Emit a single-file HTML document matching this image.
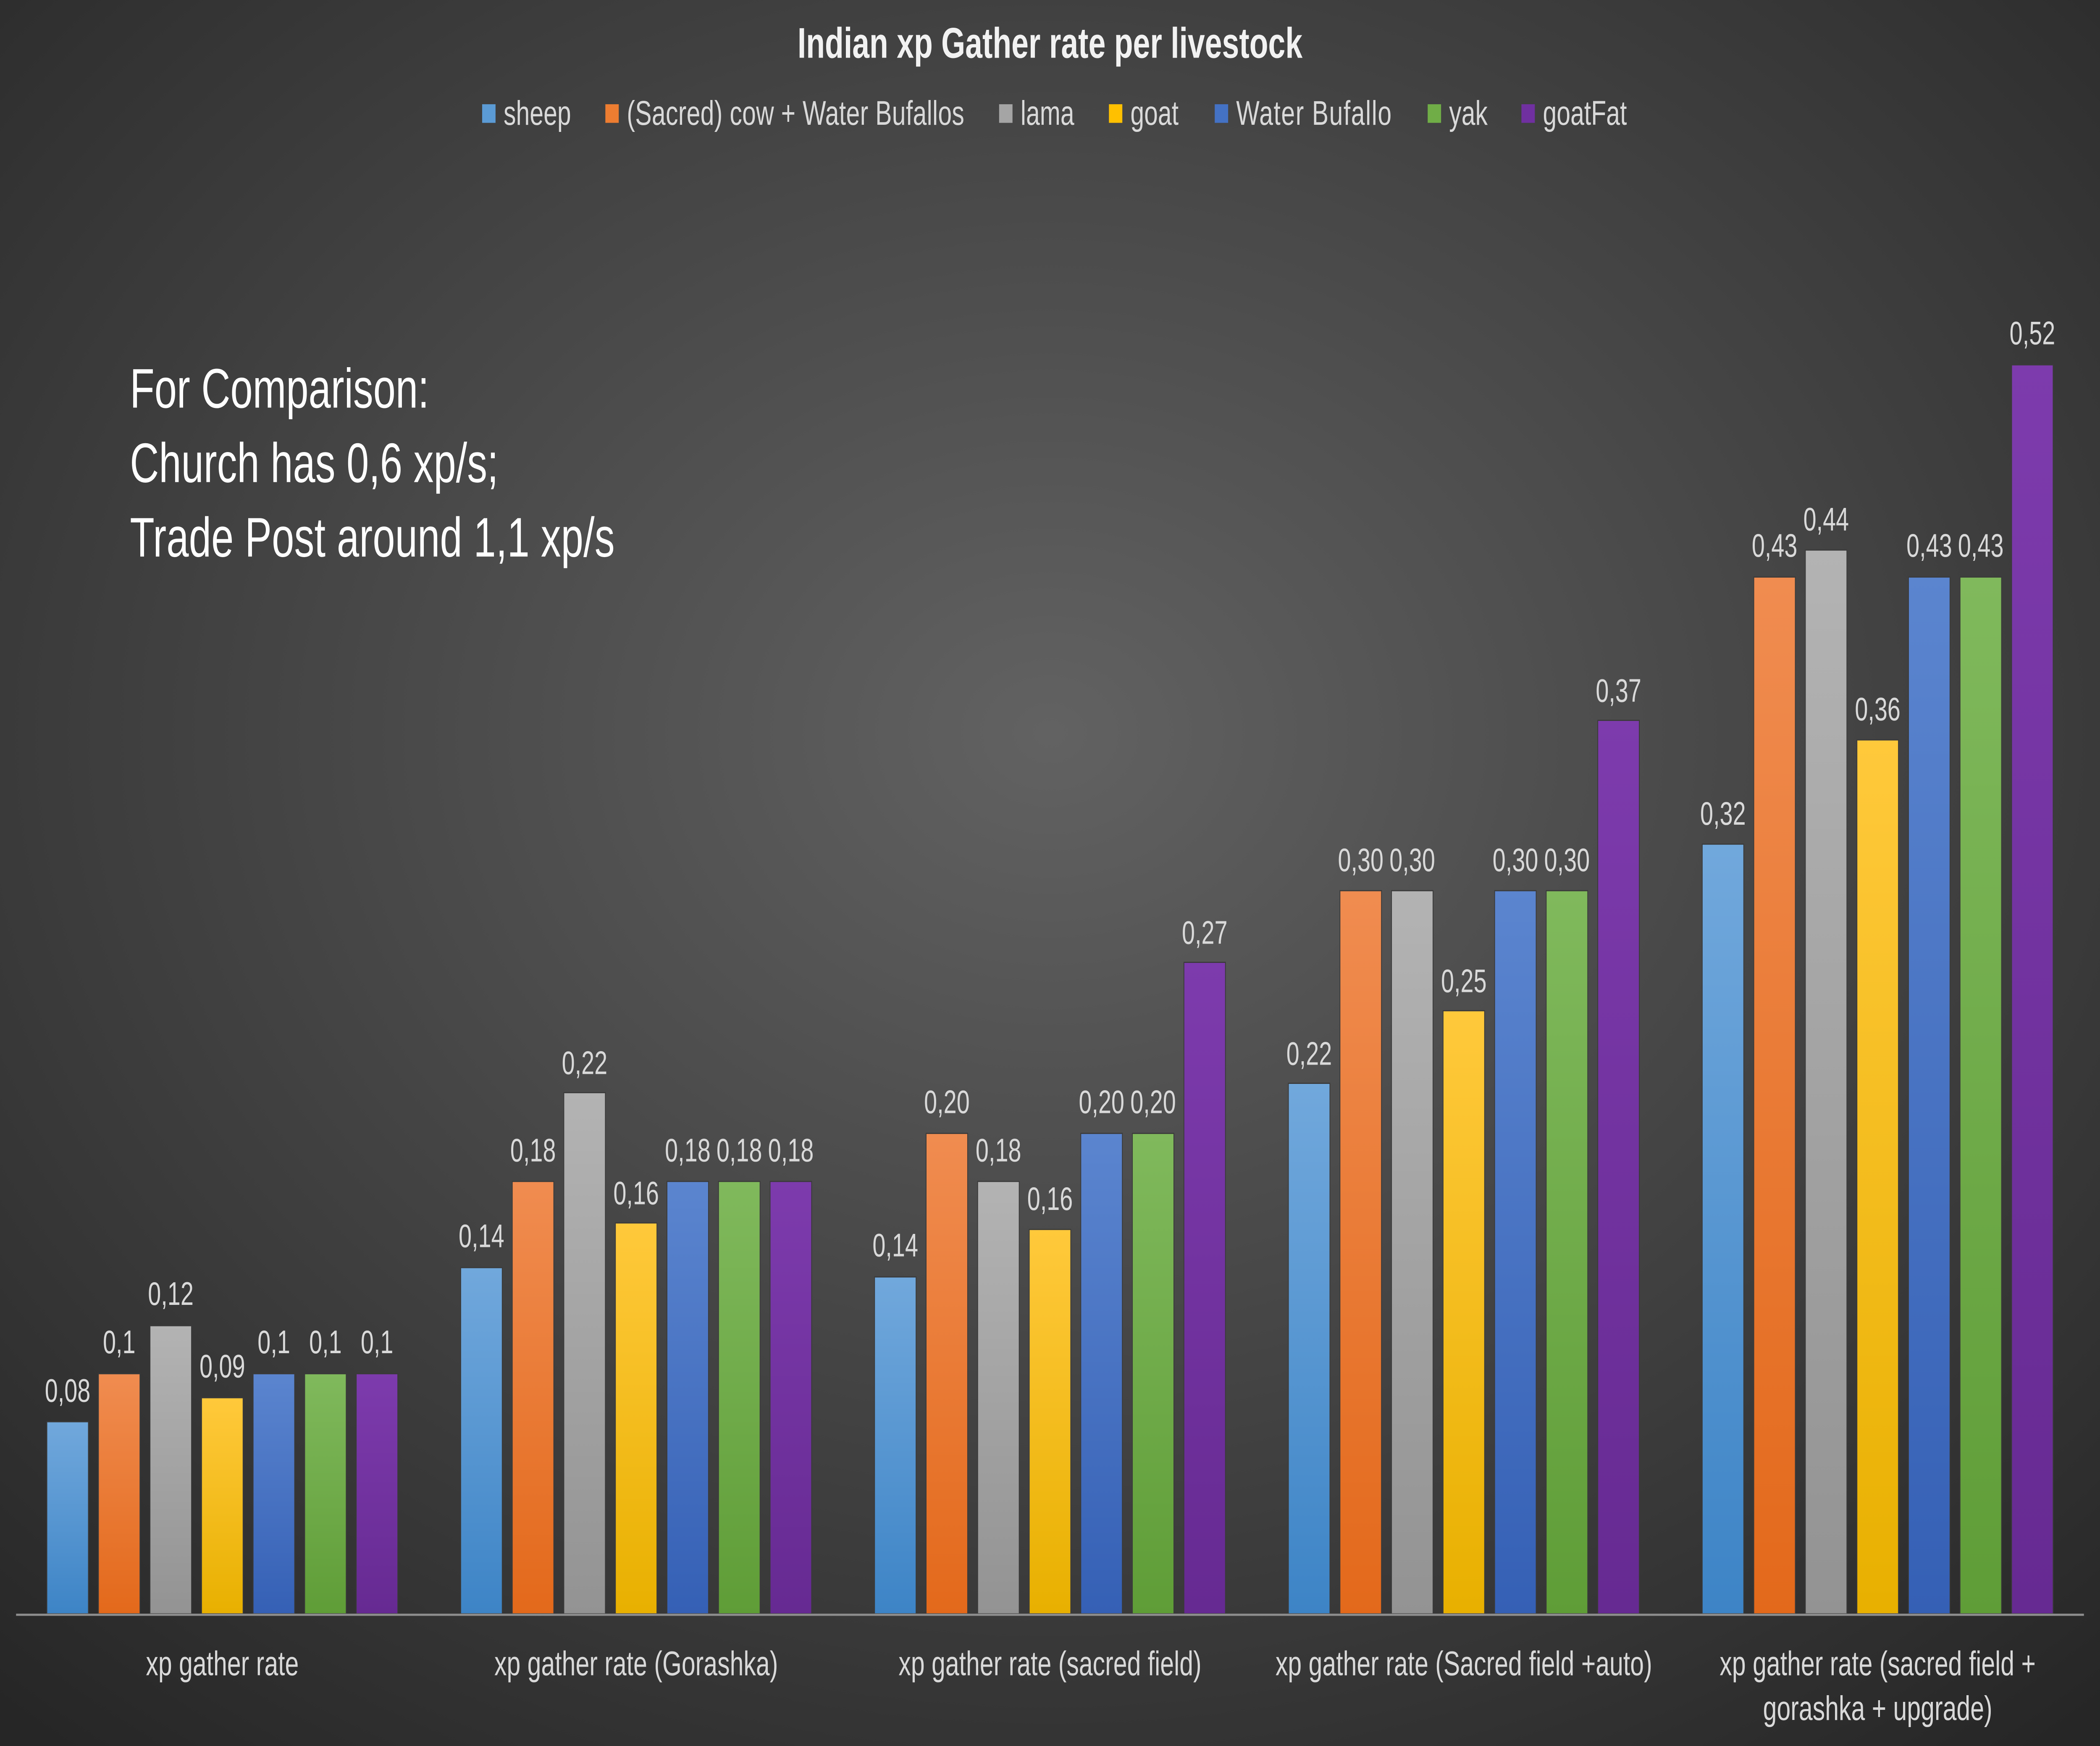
<!DOCTYPE html>
<html><head><meta charset="utf-8"><style>html,body{margin:0;padding:0;background:#333;overflow:hidden;width:100vw;height:100vh}svg{display:block;width:100vw;height:100vh}</style></head><body>
<svg xmlns="http://www.w3.org/2000/svg" viewBox="0 0 1568 938" preserveAspectRatio="none" font-family="'Liberation Sans','DejaVu Sans',sans-serif">
<defs>
<radialGradient id="bg" cx="0.5" cy="0.42" r="0.75"><stop offset="0" stop-color="#626262"/><stop offset="1" stop-color="#262626"/></radialGradient>
<linearGradient id="c0" x1="0" y1="0" x2="0" y2="1"><stop offset="0" stop-color="#71a8dc"/><stop offset="1" stop-color="#3d84c6"/></linearGradient>
<linearGradient id="c1" x1="0" y1="0" x2="0" y2="1"><stop offset="0" stop-color="#f08c50"/><stop offset="1" stop-color="#e3691b"/></linearGradient>
<linearGradient id="c2" x1="0" y1="0" x2="0" y2="1"><stop offset="0" stop-color="#b3b3b3"/><stop offset="1" stop-color="#939393"/></linearGradient>
<linearGradient id="c3" x1="0" y1="0" x2="0" y2="1"><stop offset="0" stop-color="#ffc93b"/><stop offset="1" stop-color="#e8b000"/></linearGradient>
<linearGradient id="c4" x1="0" y1="0" x2="0" y2="1"><stop offset="0" stop-color="#5b85cf"/><stop offset="1" stop-color="#3560b5"/></linearGradient>
<linearGradient id="c5" x1="0" y1="0" x2="0" y2="1"><stop offset="0" stop-color="#80b95c"/><stop offset="1" stop-color="#5f9d37"/></linearGradient>
<linearGradient id="c6" x1="0" y1="0" x2="0" y2="1"><stop offset="0" stop-color="#7d3bad"/><stop offset="1" stop-color="#662a92"/></linearGradient>
</defs>
<rect width="1568" height="938" fill="url(#bg)"/>
<text x="784" y="31" text-anchor="middle" font-size="23" font-weight="bold" fill="#f2f2f2">Indian xp Gather rate per livestock</text>
<g font-size="18.5" fill="#d9d9d9">
<rect x="360" y="56" width="10" height="10" fill="#5B9BD5"/><text x="376" y="67">sheep</text>
<rect x="452" y="56" width="10" height="10" fill="#ED7D31"/><text x="468" y="67" textLength="252">(Sacred) cow + Water Bufallos</text>
<rect x="746" y="56" width="10" height="10" fill="#A5A5A5"/><text x="762" y="67">lama</text>
<rect x="828" y="56" width="10" height="10" fill="#FFC000"/><text x="844" y="67">goat</text>
<rect x="907" y="56" width="10" height="10" fill="#4472C4"/><text x="923" y="67" textLength="116">Water Bufallo</text>
<rect x="1066" y="56" width="10" height="10" fill="#70AD47"/><text x="1082" y="67">yak</text>
<rect x="1136" y="56" width="10" height="10" fill="#7030A0"/><text x="1152" y="67">goatFat</text>
</g>
<g font-size="30" fill="#ffffff">
<text x="97" y="219">For Comparison:</text>
<text x="97" y="259">Church has 0,6 xp/s;</text>
<text x="97" y="299" textLength="362">Trade Post around 1,1 xp/s</text>
</g>
<g stroke="#3a3a3a" stroke-width="0.6">
<rect x="35" y="763.8" width="31" height="103.2" fill="url(#c0)"/>
<rect x="73.5" y="738" width="31" height="129" fill="url(#c1)"/>
<rect x="112" y="712.2" width="31" height="154.8" fill="url(#c2)"/>
<rect x="150.5" y="750.9" width="31" height="116.1" fill="url(#c3)"/>
<rect x="189" y="738" width="31" height="129" fill="url(#c4)"/>
<rect x="227.5" y="738" width="31" height="129" fill="url(#c5)"/>
<rect x="266" y="738" width="31" height="129" fill="url(#c6)"/>

<rect x="344" y="681" width="31" height="186" fill="url(#c0)"/>
<rect x="382.5" y="634.7" width="31" height="232.3" fill="url(#c1)"/>
<rect x="421" y="587" width="31" height="280" fill="url(#c2)"/>
<rect x="459.5" y="657" width="31" height="210" fill="url(#c3)"/>
<rect x="498" y="634.7" width="31" height="232.3" fill="url(#c4)"/>
<rect x="536.5" y="634.7" width="31" height="232.3" fill="url(#c5)"/>
<rect x="575" y="634.7" width="31" height="232.3" fill="url(#c6)"/>

<rect x="653" y="686" width="31" height="181" fill="url(#c0)"/>
<rect x="691.5" y="608.9" width="31" height="258.1" fill="url(#c1)"/>
<rect x="730" y="634.7" width="31" height="232.3" fill="url(#c2)"/>
<rect x="768.5" y="660.5" width="31" height="206.5" fill="url(#c3)"/>
<rect x="807" y="608.9" width="31" height="258.1" fill="url(#c4)"/>
<rect x="845.5" y="608.9" width="31" height="258.1" fill="url(#c5)"/>
<rect x="884" y="517" width="31" height="350" fill="url(#c6)"/>

<rect x="962" y="582" width="31" height="285" fill="url(#c0)"/>
<rect x="1000.5" y="478.5" width="31" height="388.5" fill="url(#c1)"/>
<rect x="1039" y="478.5" width="31" height="388.5" fill="url(#c2)"/>
<rect x="1077.5" y="543" width="31" height="324" fill="url(#c3)"/>
<rect x="1116" y="478.5" width="31" height="388.5" fill="url(#c4)"/>
<rect x="1154.5" y="478.5" width="31" height="388.5" fill="url(#c5)"/>
<rect x="1193" y="387" width="31" height="480" fill="url(#c6)"/>

<rect x="1271" y="453.5" width="31" height="413.5" fill="url(#c0)"/>
<rect x="1309.5" y="310" width="31" height="557" fill="url(#c1)"/>
<rect x="1348" y="295.5" width="31" height="571.5" fill="url(#c2)"/>
<rect x="1386.5" y="397.5" width="31" height="469.5" fill="url(#c3)"/>
<rect x="1425" y="310" width="31" height="557" fill="url(#c4)"/>
<rect x="1463.5" y="310" width="31" height="557" fill="url(#c5)"/>
<rect x="1502" y="196" width="31" height="671" fill="url(#c6)"/>
</g>
<line x1="12" y1="867.5" x2="1556" y2="867.5" stroke="#8c8c8c" stroke-width="1.2"/>
<g font-size="17.5" fill="#d9d9d9" text-anchor="middle">
<text x="50.5" y="753">0,08</text><text x="89" y="727">0,1</text><text x="127.5" y="701">0,12</text><text x="166" y="740">0,09</text><text x="204.5" y="727">0,1</text><text x="243" y="727">0,1</text><text x="281.5" y="727">0,1</text>
<text x="359.5" y="670">0,14</text><text x="398" y="624">0,18</text><text x="436.5" y="577">0,22</text><text x="475" y="647">0,16</text><text x="513.5" y="624">0,18</text><text x="552" y="624">0,18</text><text x="590.5" y="624">0,18</text>
<text x="668.5" y="675">0,14</text><text x="707" y="598">0,20</text><text x="745.5" y="624">0,18</text><text x="784" y="650">0,16</text><text x="822.5" y="598">0,20</text><text x="861" y="598">0,20</text><text x="899.5" y="507">0,27</text>
<text x="977.5" y="572">0,22</text><text x="1016" y="468">0,30</text><text x="1054.5" y="468">0,30</text><text x="1093" y="533">0,25</text><text x="1131.5" y="468">0,30</text><text x="1170" y="468">0,30</text><text x="1208.5" y="377">0,37</text>
<text x="1286.5" y="443">0,32</text><text x="1325" y="299">0,43</text><text x="1363.5" y="285">0,44</text><text x="1402" y="387">0,36</text><text x="1440.5" y="299">0,43</text><text x="1479" y="299">0,43</text><text x="1517.5" y="185">0,52</text>
</g>
<g font-size="18.5" fill="#d9d9d9" text-anchor="middle">
<text x="166" y="900">xp gather rate</text>
<text x="475" y="900">xp gather rate (Gorashka)</text>
<text x="784" y="900">xp gather rate (sacred field)</text>
<text x="1093" y="900">xp gather rate (Sacred field +auto)</text>
<text x="1402" y="900">xp gather rate (sacred field +</text>
<text x="1402" y="924">gorashka + upgrade)</text>
</g>
</svg>
</body></html>
